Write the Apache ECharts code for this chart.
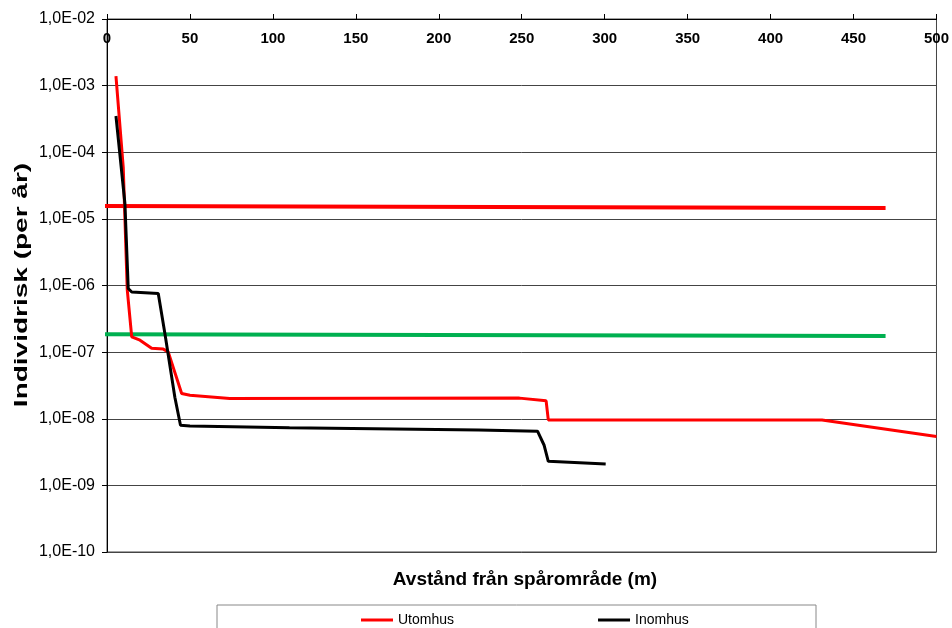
<!DOCTYPE html>
<html>
<head>
<meta charset="utf-8">
<script src="https://cdn.jsdelivr.net/npm/echarts@6/dist/echarts.min.js"></script>
<style>html,body{margin:0;padding:0;background:#fff;}#c{width:952px;height:628px;}</style>
</head>
<body>
<div id="c"></div>
<script>
// Distance (m) and individual risk (per year)
const utomhusX = [5.4, 9.8, 10.6, 12.2, 14.9, 19.9, 26.9, 33.9, 36.9, 45.0, 50.0, 51.0, 74, 248.6, 264.7, 266.0, 431, 500];
const utomhusY = [1.39e-3, 5.9e-5, 5.6e-5, 8.7e-7, 1.70e-7, 1.51e-7, 1.14e-7, 1.11e-7, 1.01e-7, 2.40e-8, 2.26e-8, 2.13e-8, 2.02e-8, 2.04e-8, 1.86e-8, 9.6e-9, 9.6e-9, 5.4e-9];
const inomhusX = [5.4, 10.8, 12.8, 14.9, 30.9, 34.9, 40.9, 44.3, 50, 110, 224, 259.5, 263.5, 266, 300.6];
const inomhusY = [3.5e-4, 1.7e-5, 9.0e-7, 8.0e-7, 7.6e-7, 1.9e-7, 2.1e-8, 8.0e-9, 7.8e-9, 7.3e-9, 6.75e-9, 6.5e-9, 4.0e-9, 2.3e-9, 2.1e-9];
const criteriaX = [-3.0, 469.3];
const upperCriteriaY = [1.56e-5, 1.45e-5];
const lowerCriteriaY = [1.86e-7, 1.74e-7];
const xTicks = {min: 0, max: 500, interval: 50};
const yRange = {min: 1e-10, max: 1e-2};
const seriesNames = ['Utomhus', 'Inomhus'];
const xTitle = 'Avstånd från spårområde (m)';
const yTitle = 'Individrisk (per år)';

const zip = (xs, ys) => xs.map((x, i) => [x, ys[i]]);
const FONT = '"Liberation Sans", Arial, sans-serif';

const chart = echarts.init(document.getElementById('c'), null, {renderer: 'canvas'});
chart.setOption({
  animation: false,
  backgroundColor: '#fff',
  grid: {left: 107, right: 14, top: 19, bottom: 76, show: true, borderColor: '#444', borderWidth: 1},
  xAxis: {
    type: 'value', position: 'top', min: xTicks.min, max: xTicks.max, interval: xTicks.interval,
    axisLine: {show: true, lineStyle: {color: '#000', width: 1}},
    axisTick: {show: true, inside: false, length: 5, lineStyle: {color: '#000'}},
    axisLabel: {inside: true, margin: 12, color: '#000', fontFamily: FONT, fontWeight: 'bold', fontSize: 15},
    splitLine: {show: false}
  },
  yAxis: {
    type: 'log', logBase: 10, min: yRange.min, max: yRange.max, splitNumber: 8,
    axisLine: {show: true, onZero: false, lineStyle: {color: '#000', width: 1}},
    axisTick: {show: true, length: 5, lineStyle: {color: '#000'}},
    minorTick: {show: false},
    axisLabel: {
      margin: 12, color: '#000', fontFamily: FONT, fontSize: 16,
      formatter: v => {
        const e = Math.round(Math.log10(v));
        return '1,0E' + (e < 0 ? '-' : '+') + String(Math.abs(e)).padStart(2, '0');
      }
    },
    splitLine: {show: true, lineStyle: {color: '#444', width: 1}}
  },
  legend: {
    data: seriesNames, left: 356, top: 608, icon: 'rect', itemWidth: 32, itemHeight: 3,
    itemGap: 144, textStyle: {color: '#000', fontFamily: FONT, fontSize: 14}
  },
  graphic: [
    {type: 'rect', shape: {x: 217, y: 605, width: 599, height: 40}, style: {fill: 'none', stroke: '#888', lineWidth: 1}, silent: true},
    {type: 'text', x: 525, y: 580, style: {text: xTitle, font: 'bold 19px ' + FONT, fill: '#000', align: 'center', verticalAlign: 'middle'}},
    {type: 'text', x: 22, y: 285, rotation: Math.PI / 2, scaleX: 1.75, scaleY: 1.1, style: {text: yTitle, font: 'bold 16px ' + FONT, fill: '#000', align: 'center', verticalAlign: 'middle'}}
  ],
  series: [
    {name: 'Övre gräns', type: 'line', data: zip(criteriaX, upperCriteriaY), showSymbol: false, clip: false, lineStyle: {color: '#ff0000', width: 4}, z: 2, silent: true},
    {name: 'Undre gräns', type: 'line', data: zip(criteriaX, lowerCriteriaY), showSymbol: false, clip: false, lineStyle: {color: '#00b050', width: 4}, z: 2, silent: true},
    {name: 'Utomhus', type: 'line', data: zip(utomhusX, utomhusY), showSymbol: false, color: '#ff0000', lineStyle: {color: '#ff0000', width: 3}, z: 3},
    {name: 'Inomhus', type: 'line', data: zip(inomhusX, inomhusY), showSymbol: false, color: '#000000', lineStyle: {color: '#000000', width: 3}, z: 4}
  ]
});
</script>
</body>
</html>
